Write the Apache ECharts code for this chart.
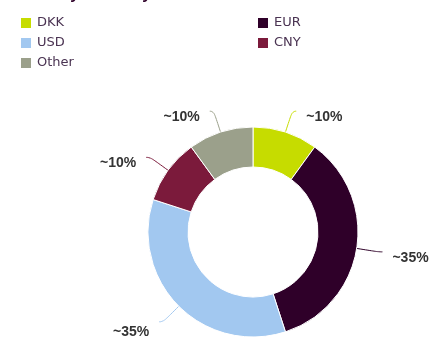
<!DOCTYPE html>
<html>
<head>
<meta charset="utf-8">
<script src="https://cdn.jsdelivr.net/npm/echarts@6/dist/echarts.min.js"></script>
<style>
html,body{margin:0;padding:0;background:#fff;}
#chart{width:430px;height:338px;}
</style>
</head>
<body>
<div id="chart"></div>
<script>
// Currency split of income
const currencies = ['DKK', 'EUR', 'USD', 'CNY', 'Other'];
const shares = [10, 35, 35, 10, 10];
const shareLabels = ['~10%', '~35%', '~35%', '~10%', '~10%'];
const colors = ['#c6dc00', '#2f0029', '#a2c8f0', '#7b1a3b', '#9ba08b'];

const chart = echarts.init(document.getElementById('chart'));

const legendText = { color: '#4a3352', fontSize: 13, lineHeight: 13, fontFamily: 'DejaVu Sans' };

chart.setOption({
  animation: false,
  title: {
    text: 'Income by currency',
    left: -5,
    top: -18,
    textStyle: { fontSize: 16, fontWeight: 'bold', color: '#2f0029', fontFamily: 'Liberation Sans' }
  },
  legend: [
    {
      data: ['DKK', 'USD', 'Other'],
      orient: 'vertical',
      left: 14, top: 11,
      itemWidth: 12, itemHeight: 12, itemGap: 6,
      icon: 'rect',
      textStyle: legendText
    },
    {
      data: ['EUR', 'CNY'],
      orient: 'vertical',
      left: 251, top: 11,
      itemWidth: 12, itemHeight: 12, itemGap: 6,
      icon: 'rect',
      textStyle: legendText
    }
  ],
  series: [{
    type: 'pie',
    center: [253, 232],
    radius: [65, 105],
    startAngle: 90,
    clockwise: true,
    itemStyle: { borderColor: '#fff', borderWidth: 1 },
    label: {
      show: true,
      formatter: p => shareLabels[p.dataIndex],
      fontFamily: 'Liberation Sans',
      fontWeight: 'bold',
      fontSize: 14,
      color: '#333',
      overflow: 'none',
      distanceToLabelLine: 10
    },
    labelLine: { show: true, length: 22, length2: 4, smooth: 0.6, lineStyle: { width: 1 } },
    // labels sit a little below the end of their leader line; more so near the bottom
    labelLayout: p => ({ dy: p.labelRect.y > 280 ? 10 : 6 }),
    data: currencies.map((c, i) => ({
      name: c,
      value: shares[i],
      itemStyle: { color: colors[i] }
    }))
  }]
});
</script>
</body>
</html>
